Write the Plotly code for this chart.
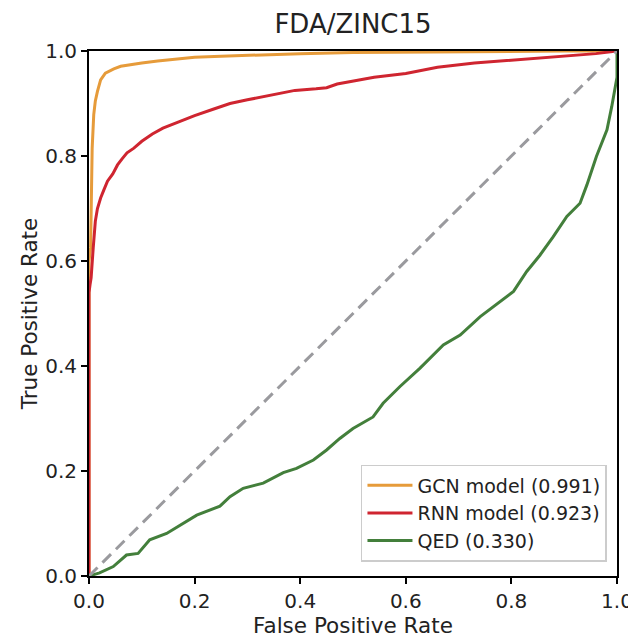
import plotly.graph_objects as go

# ---- data ----
gcn_fpr = [0, 0, 0.003, 0.004, 0.006, 0.009, 0.012, 0.016, 0.022, 0.031, 0.04, 0.047, 0.06, 0.072, 0.1,
           0.13, 0.17, 0.2, 0.25, 0.3, 0.35, 0.4, 0.5, 0.6, 0.7, 0.8, 0.9, 1.0]
gcn_tpr = [0, 0.6, 0.625, 0.688, 0.815, 0.879, 0.905, 0.923, 0.945, 0.958, 0.963, 0.966, 0.971, 0.973, 0.977,
           0.981, 0.985, 0.988, 0.99, 0.992, 0.994, 0.995, 0.997, 0.998, 0.999, 0.9995, 1.0, 1.0]

rnn_fpr = [0, 0, 0.002, 0.004, 0.008, 0.012, 0.016, 0.022, 0.028, 0.035, 0.045, 0.054, 0.063, 0.072, 0.085,
           0.1, 0.12, 0.14, 0.17, 0.2, 0.235, 0.267, 0.3, 0.33, 0.36, 0.39, 0.43, 0.45, 0.47, 0.51, 0.54,
           0.6, 0.66, 0.73, 0.79, 0.85, 0.89, 0.92, 0.96, 1.0]
rnn_tpr = [0, 0.54, 0.555, 0.568, 0.625, 0.676, 0.70, 0.72, 0.735, 0.752, 0.766, 0.783, 0.795, 0.806, 0.815,
           0.828, 0.842, 0.853, 0.865, 0.877, 0.889, 0.90, 0.907, 0.913, 0.92, 0.925, 0.928, 0.93, 0.937, 0.944, 0.95,
           0.957, 0.969, 0.977, 0.982, 0.986, 0.989, 0.992, 0.995, 1.0]

qed_fpr = [0, 0.02, 0.046, 0.071, 0.093, 0.115, 0.147, 0.172, 0.204, 0.248, 0.267, 0.292, 0.33, 0.368, 0.393,
           0.425, 0.45, 0.475, 0.5, 0.538, 0.557, 0.589, 0.627, 0.671, 0.703, 0.741, 0.766, 0.804, 0.829, 0.854,
           0.879, 0.905, 0.93, 0.943, 0.961, 0.981, 0.99, 0.996, 1.0, 1.0]
qed_tpr = [0, 0.006, 0.018, 0.04, 0.043, 0.069, 0.081, 0.097, 0.116, 0.133, 0.151, 0.167, 0.177, 0.197, 0.205,
           0.221, 0.24, 0.262, 0.281, 0.303, 0.329, 0.361, 0.396, 0.44, 0.459, 0.494, 0.513, 0.542, 0.58, 0.611,
           0.646, 0.685, 0.71, 0.745, 0.799, 0.85, 0.894, 0.932, 0.95, 1.0]

diag = [0, 1]

series_names = ["GCN model (0.991)", "RNN model (0.923)", "QED (0.330)"]
tick_vals = [0, 0.2, 0.4, 0.6, 0.8, 1.0]
tick_text = ["0.0", "0.2", "0.4", "0.6", "0.8", "1.0"]

FONT = "DejaVu Sans"

fig = go.Figure()
fig.add_trace(go.Scatter(x=gcn_fpr, y=gcn_tpr, mode="lines", name=series_names[0],
                         line=dict(color="#e69b3a", width=3)))
fig.add_trace(go.Scatter(x=rnn_fpr, y=rnn_tpr, mode="lines", name=series_names[1],
                         line=dict(color="#cf2530", width=3)))
fig.add_trace(go.Scatter(x=qed_fpr, y=qed_tpr, mode="lines", name=series_names[2],
                         line=dict(color="#437f3b", width=3)))
fig.add_trace(go.Scatter(x=diag, y=diag, mode="lines", showlegend=False,
                         line=dict(color="#9a9a9e", width=3, dash="12px,7px")))

axis_common = dict(
    range=[0, 1], tickvals=tick_vals, ticktext=tick_text,
    showgrid=False, zeroline=False, automargin=False,
    showline=True, linecolor="black", linewidth=2, mirror=True,
    ticks="outside", ticklen=6, tickwidth=2, tickcolor="black",
    tickfont=dict(family=FONT, size=20, color="#222"),
)

# the page places the figure 8px in from the top-left corner
fig.update_layout(
    width=636, height=637,
    margin=dict(l=81, r=27, t=43, b=69, autoexpand=False),
    paper_bgcolor="white", plot_bgcolor="white",
    font=dict(family=FONT, color="#222"),
    title=dict(text="FDA/ZINC15", x=345 / 636, xanchor="center",
               y=1 - 16 / 637, yanchor="middle", yref="container", xref="container",
               font=dict(family=FONT, size=26, color="#222")),
    xaxis=dict(axis_common, title=dict(text="False Positive Rate", standoff=5,
                                       font=dict(family=FONT, size=21.5, color="#222"))),
    yaxis=dict(axis_common, title=dict(text="True Positive Rate", standoff=2,
                                       font=dict(family=FONT, size=21.5, color="#222"))),
    legend=dict(x=0.981, y=0.027, xanchor="right", yanchor="bottom",
                bgcolor="rgba(255,255,255,0.9)", bordercolor="#cccccc", borderwidth=1.5,
                font=dict(family=FONT, size=19, color="#222"),
                tracegroupgap=0, itemwidth=45),
)

fig.write_html("out.html")
